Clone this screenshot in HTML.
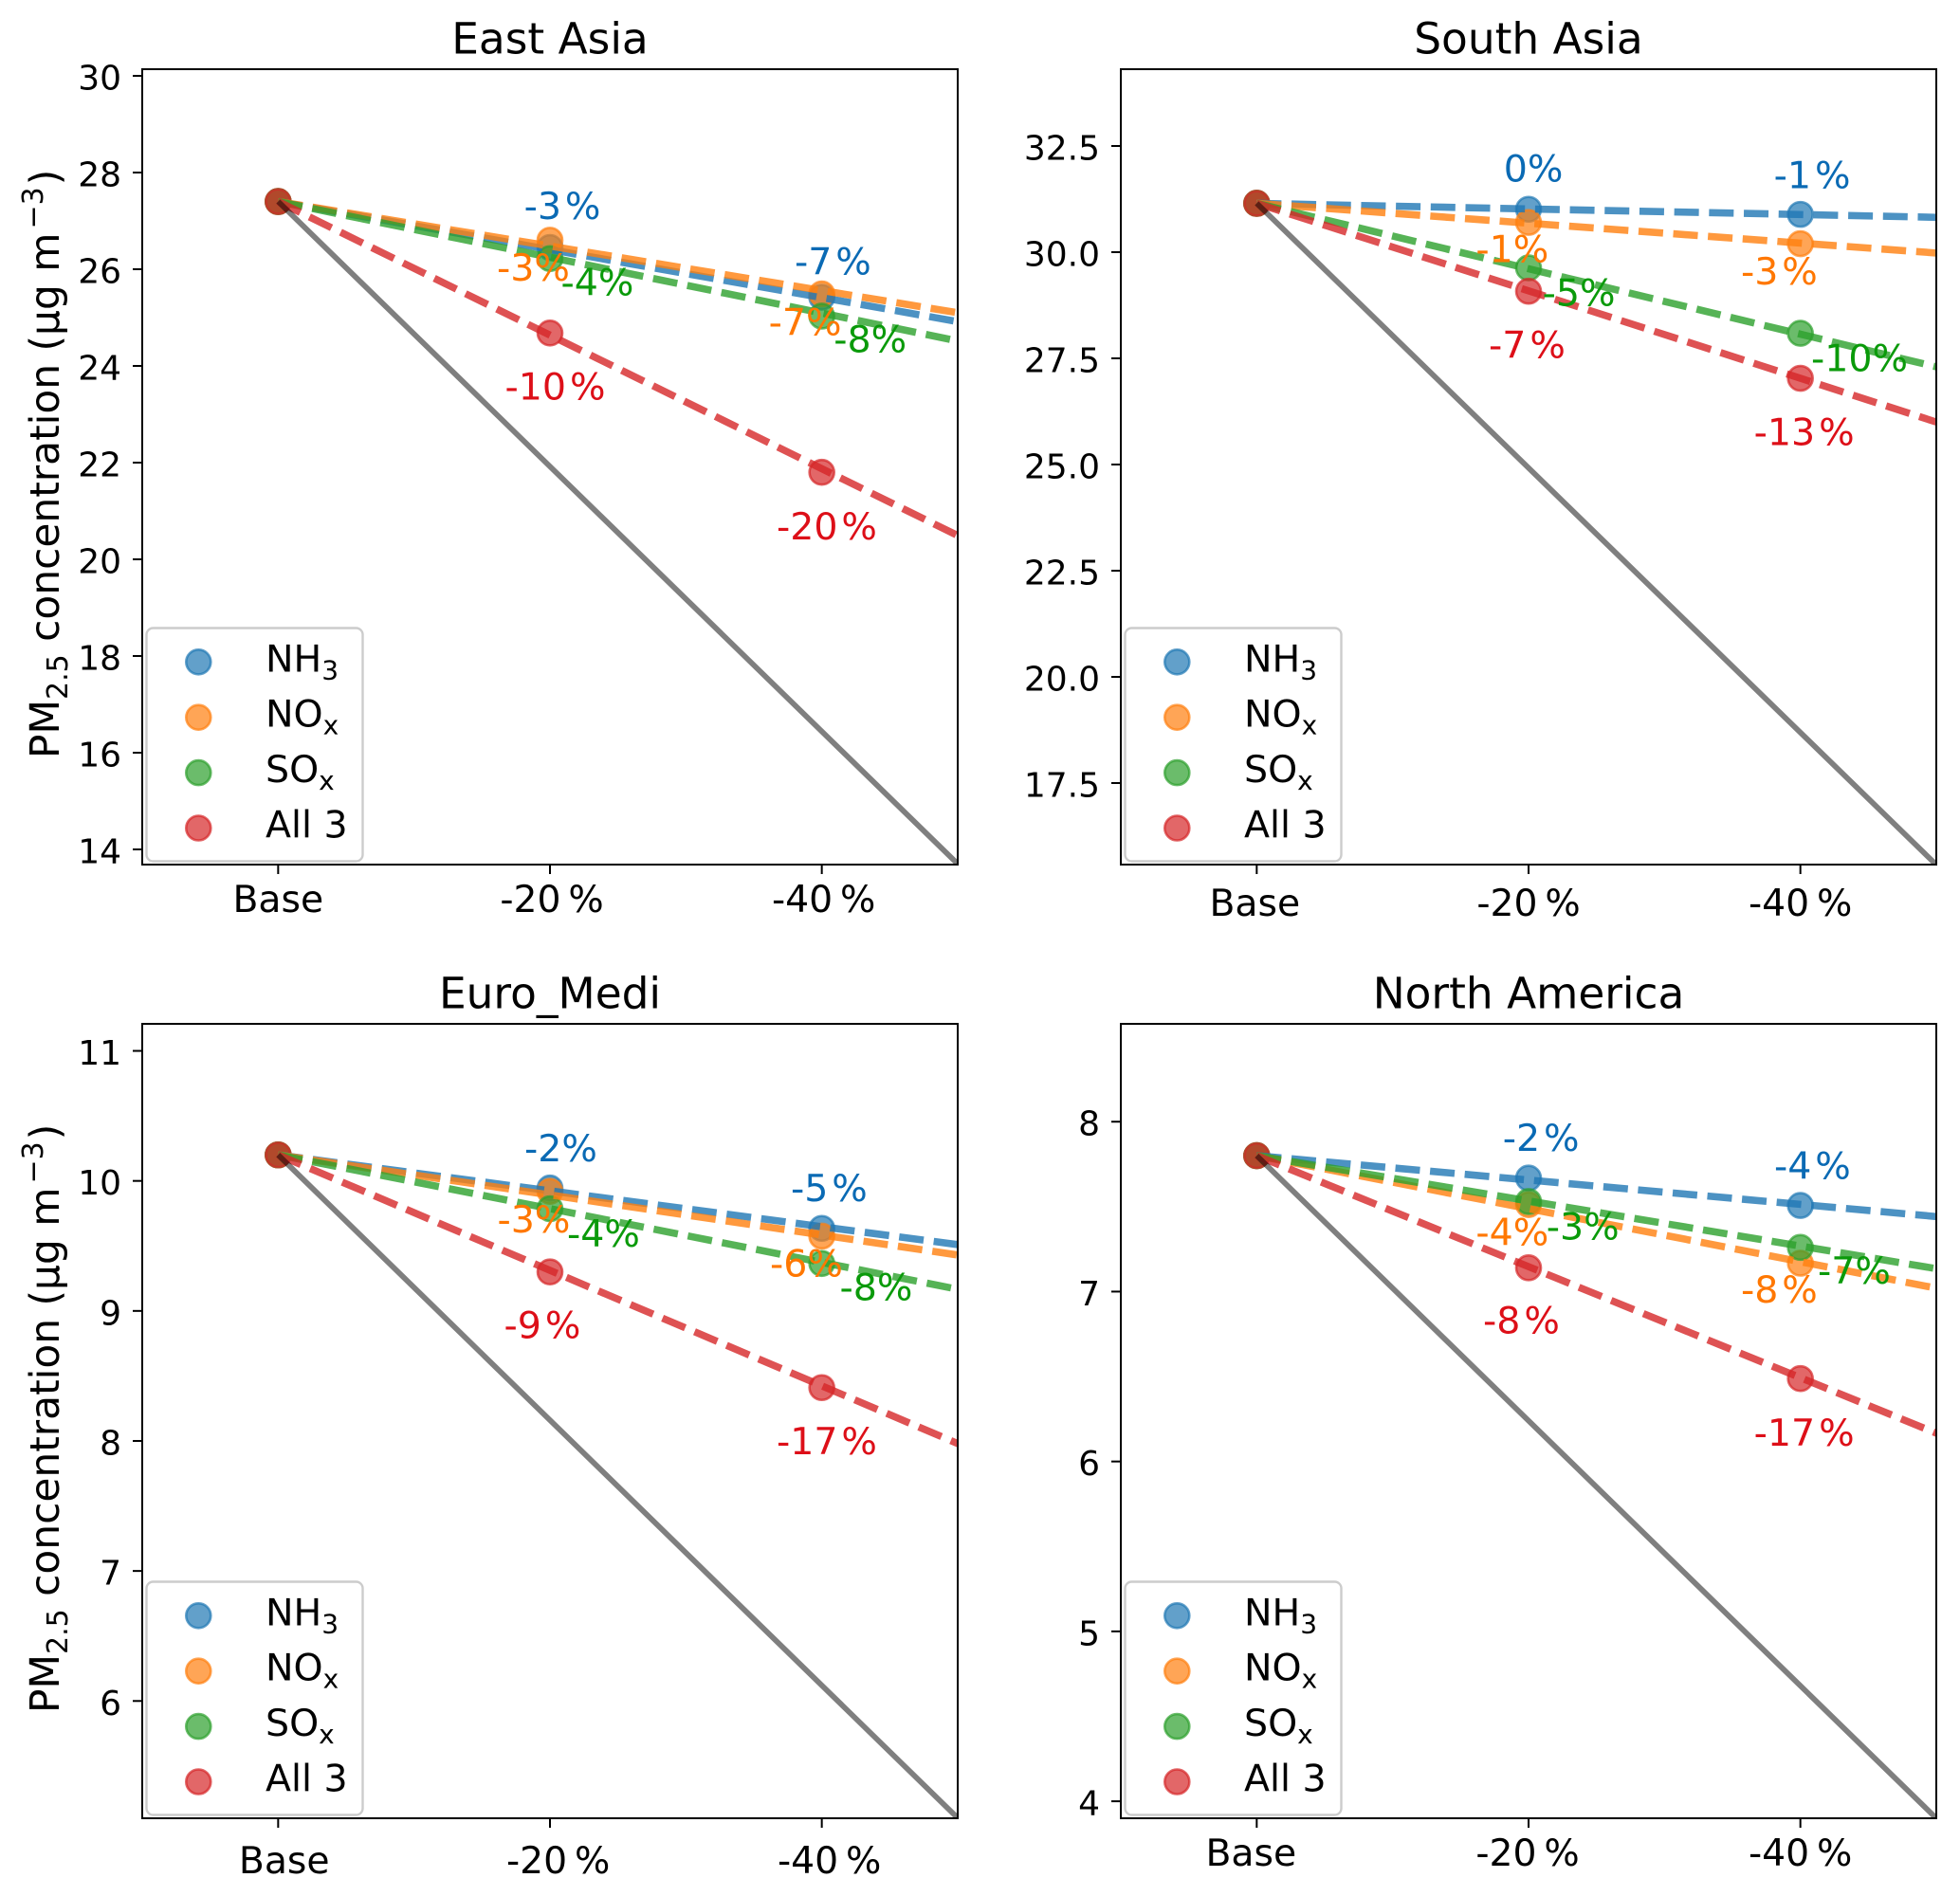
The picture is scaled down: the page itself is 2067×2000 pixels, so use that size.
<!DOCTYPE html>
<html lang="en">
<head>
<meta charset="utf-8">
<title>PM2.5 concentration response to emission reductions</title>
<style>
html,body{margin:0;padding:0;background:#fff;}
svg{display:block;font-family:"DejaVu Sans","Liberation Sans",sans-serif;}
</style>
</head>
<body>
<svg id="chart" xmlns="http://www.w3.org/2000/svg" width="2067" height="2000" viewBox="0 0 2067 2000"></svg>
<script>
// ---------- categories ----------
const categories = ['Base', '-20\u2009%', '-40\u2009%'];
const markerIndex = [0, 1, 2];
const lineIndex = [0, 3];

// ---------- East Asia ----------
const eastAsiaDomain = [13.686, 30.137];
const eastAsiaTicks = [14, 16, 18, 20, 22, 24, 26, 28, 30];
const eastAsiaTickLabels = ['14', '16', '18', '20', '22', '24', '26', '28', '30'];
const eastAsiaNH3 = [27.4, 26.45, 25.42];
const eastAsiaNOx = [27.4, 26.6, 25.49];
const eastAsiaSOx = [27.4, 26.22, 25.03];
const eastAsiaAll = [27.4, 24.68, 21.8];
const eastAsiaNH3Trend = [27.4, 24.42];
const eastAsiaNOxTrend = [27.4, 24.64];
const eastAsiaSOxTrend = [27.4, 23.94];
const eastAsiaAllTrend = [27.4, 19.11];
const eastAsiaOneToOne = [27.4, 10.96];
const eastAsiaNH3Labels = ['-3\u200a%', '-7\u200a%'];
const eastAsiaNOxLabels = ['-3%', '-7%'];
const eastAsiaSOxLabels = ['-4%', '-8%'];
const eastAsiaAllLabels = ['-10\u200a%', '-20\u200a%'];

// ---------- South Asia ----------
const southAsiaDomain = [15.58, 34.308];
const southAsiaTicks = [17.5, 20, 22.5, 25, 27.5, 30, 32.5];
const southAsiaTickLabels = ['17.5', '20.0', '22.5', '25.0', '27.5', '30.0', '32.5'];
const southAsiaNH3 = [31.15, 31.01, 30.89];
const southAsiaNOx = [31.15, 30.7, 30.2];
const southAsiaSOx = [31.15, 29.63, 28.09];
const southAsiaAll = [31.15, 29.08, 27.03];
const southAsiaNH3Trend = [31.15, 30.754];
const southAsiaNOxTrend = [31.15, 29.746];
const southAsiaSOxTrend = [31.15, 26.53];
const southAsiaAllTrend = [31.15, 24.97];
const southAsiaOneToOne = [31.15, 12.46];
const southAsiaNH3Labels = ['0%', '-1\u200a%'];
const southAsiaNOxLabels = ['-1%', '-3\u200a%'];
const southAsiaSOxLabels = ['-5%', '-10%'];
const southAsiaAllLabels = ['-7\u200a%', '-13\u200a%'];

// ---------- Euro_Medi ----------
const euroMediDomain = [5.098, 11.208];
const euroMediTicks = [6, 7, 8, 9, 10, 11];
const euroMediTickLabels = ['6', '7', '8', '9', '10', '11'];
const euroMediNH3 = [10.2, 9.945, 9.635];
const euroMediNOx = [10.2, 9.92, 9.575];
const euroMediSOx = [10.2, 9.786, 9.365];
const euroMediAll = [10.2, 9.3, 8.41];
const euroMediNH3Trend = [10.2, 9.372];
const euroMediNOxTrend = [10.2, 9.276];
const euroMediSOxTrend = [10.2, 8.96];
const euroMediAllTrend = [10.2, 7.536];
const euroMediOneToOne = [10.2, 4.08];
const euroMediNH3Labels = ['-2%', '-5\u200a%'];
const euroMediNOxLabels = ['-3%', '-6%'];
const euroMediSOxLabels = ['-4%', '-8%'];
const euroMediAllLabels = ['-9\u200a%', '-17\u200a%'];

// ---------- North America ----------
const northAmericaDomain = [3.9, 8.576];
const northAmericaTicks = [4, 5, 6, 7, 8];
const northAmericaTickLabels = ['4', '5', '6', '7', '8'];
const northAmericaNH3 = [7.8, 7.668, 7.507];
const northAmericaNOx = [7.8, 7.512, 7.167];
const northAmericaSOx = [7.8, 7.53, 7.26];
const northAmericaAll = [7.8, 7.14, 6.488];
const northAmericaNH3Trend = [7.8, 7.37];
const northAmericaNOxTrend = [7.8, 6.864];
const northAmericaSOxTrend = [7.8, 7.002];
const northAmericaAllTrend = [7.8, 5.84];
const northAmericaOneToOne = [7.8, 3.12];
const northAmericaNH3Labels = ['-2\u200a%', '-4\u200a%'];
const northAmericaNOxLabels = ['-4%', '-8\u200a%'];
const northAmericaSOxLabels = ['-3%', '-7%'];
const northAmericaAllLabels = ['-8\u200a%', '-17\u200a%'];

// ---------- layout (not data) ----------
const seriesStyle = [
  {key: 'nh3', color: '#1f77b4', text: '#0a6ab4'},
  {key: 'nox', color: '#ff7f0e', text: '#ff7700'},
  {key: 'sox', color: '#2ca02c', text: '#0a9a0a'},
  {key: 'all3', color: '#d62728', text: '#dd0f18'}
];

const panels = [
  {id: 'east-asia', title: 'East Asia', left: 150, top: 73, domain: eastAsiaDomain,
   ticks: eastAsiaTicks, tickLabels: eastAsiaTickLabels, yLabel: true, xLabelDrop: 50, xLabelShift: [0, 2, 2],
   markers: [eastAsiaNH3, eastAsiaNOx, eastAsiaSOx, eastAsiaAll],
   trends: [eastAsiaNH3Trend, eastAsiaNOxTrend, eastAsiaSOxTrend, eastAsiaAllTrend],
   oneToOne: eastAsiaOneToOne,
   labels: [eastAsiaNH3Labels, eastAsiaNOxLabels, eastAsiaSOxLabels, eastAsiaAllLabels],
   nudges: [[[-27.4, -30], [-28.7, -24.3]], [[-56, 42.6], [-56, 43.3]], [[11.5, 38.9], [12.6, 38.2]], [[-47.5, 70.4], [-47.7, 70.8]]]},
  {id: 'south-asia', title: 'South Asia', left: 1182, top: 73, domain: southAsiaDomain,
   ticks: southAsiaTicks, tickLabels: southAsiaTickLabels, yLabel: false, xLabelDrop: 54, xLabelShift: [-2, 0, 0],
   markers: [southAsiaNH3, southAsiaNOx, southAsiaSOx, southAsiaAll],
   trends: [southAsiaNH3Trend, southAsiaNOxTrend, southAsiaSOxTrend, southAsiaAllTrend],
   oneToOne: southAsiaOneToOne,
   labels: [southAsiaNH3Labels, southAsiaNOxLabels, southAsiaSOxLabels, southAsiaAllLabels],
   nudges: [[[-26.3, -29.1], [-28, -27.8]], [[-55.6, 42.1], [-62.7, 43]], [[14.6, 40.1], [11.3, 40.1]], [[-42, 70.1], [-49, 70.3]]]},
  {id: 'euro-medi', title: 'Euro_Medi', left: 150, top: 1080, domain: euroMediDomain,
   ticks: euroMediTicks, tickLabels: euroMediTickLabels, yLabel: true, xLabelDrop: 58, xLabelShift: [6.4, 8.7, 8],
   markers: [euroMediNH3, euroMediNOx, euroMediSOx, euroMediAll],
   trends: [euroMediNH3Trend, euroMediNOxTrend, euroMediSOxTrend, euroMediAllTrend],
   oneToOne: euroMediOneToOne,
   labels: [euroMediNH3Labels, euroMediNOxLabels, euroMediSOxLabels, euroMediAllLabels],
   nudges: [[[-27, -28.2], [-32.7, -28.5]], [[-55.5, 43.3], [-54.7, 42.7]], [[18, 40], [18.8, 38.9]], [[-48.5, 70], [-47.7, 70.2]]]},
  {id: 'north-america', title: 'North America', left: 1182, top: 1080, domain: northAmericaDomain,
   ticks: northAmericaTicks, tickLabels: northAmericaTickLabels, yLabel: false, xLabelDrop: 50, xLabelShift: [-6, -1, 0],
   markers: [northAmericaNH3, northAmericaNOx, northAmericaSOx, northAmericaAll],
   trends: [northAmericaNH3Trend, northAmericaNOxTrend, northAmericaSOxTrend, northAmericaAllTrend],
   oneToOne: northAmericaOneToOne,
   labels: [northAmericaNH3Labels, northAmericaNOxLabels, northAmericaSOxLabels, northAmericaAllLabels],
   nudges: [[[-27.3, -28.8], [-27.7, -28.3]], [[-55.6, 42.6], [-62.7, 41.7]], [[18.7, 39.8], [18.3, 38.1]], [[-48, 69.3], [-49, 70.7]]]}
];

const PLOT_W = 860;
const PLOT_H = 839;
const SVG_NS = 'http://www.w3.org/2000/svg';
const root = document.getElementById('chart');

function make(parent, tag, props) {
  const node = document.createElementNS(SVG_NS, tag);
  for (const k in props) node.setAttribute(k, props[k]);
  parent.appendChild(node);
  return node;
}

function addSpan(parent, str, props) {
  const span = make(parent, 'tspan', props || {});
  span.textContent = str;
  return span;
}

panels.forEach(function (p, pi) {
  const right = p.left + PLOT_W;
  const bottom = p.top + (pi < 2 ? PLOT_H : PLOT_H - 1);
  const height = bottom - p.top;
  const xScale = function (i) { return p.left + (i + 0.5) * (PLOT_W / 3); };
  const yScale = function (v) { return p.top + (p.domain[1] - v) / (p.domain[1] - p.domain[0]) * height; };

  const g = make(root, 'g', {});
  
  

  const clip = make(g, 'clipPath', {id: 'clip-' + p.id});
  make(clip, 'rect', {x: p.left, y: p.top, width: PLOT_W, height: height});

  // Scatter markers (drawn beneath the lines)
  p.markers.forEach(function (vals, si) {
    const st = seriesStyle[si];
    vals.forEach(function (v, i) {
      const c = make(g, 'circle', {cx: xScale(markerIndex[i]), cy: yScale(v), r: 13, fill: st.color, stroke: st.color,
        'fill-opacity': 0.7, 'stroke-opacity': 0.7, 'stroke-width': 2.6, 'clip-path': 'url(#clip-' + p.id + ')'});
      
      
    });
  });

  // Dashed trend lines
  p.trends.forEach(function (vals, si) {
    const st = seriesStyle[si];
    const pts = vals.map(function (v, i) { return xScale(lineIndex[i]) + ',' + yScale(v); }).join(' ');
    const l = make(g, 'polyline', {points: pts, fill: 'none', stroke: st.color, 'stroke-width': 7.6, 'stroke-opacity': 0.8,
      'stroke-dasharray': '26 10.7', 'clip-path': 'url(#clip-' + p.id + ')'});
    
    
  });

  // One-to-one reference line
  const refPts = p.oneToOne.map(function (v, i) { return xScale(lineIndex[i]) + ',' + yScale(v); }).join(' ');
  const ref = make(g, 'polyline', {points: refPts, fill: 'none', stroke: '#000', 'stroke-width': 5.8, 'stroke-opacity': 0.5,
    'clip-path': 'url(#clip-' + p.id + ')'});
  
  

  // Percentage annotations
  p.labels.forEach(function (labs, si) {
    const st = seriesStyle[si];
    labs.forEach(function (txt, i) {
      const n = p.nudges[si][i];
      const t = make(g, 'text', {x: xScale(i + 1) + n[0], y: yScale(p.markers[si][i + 1]) + n[1], fill: st.text, 'font-size': 39.5});
      t.textContent = txt;
      
      
    });
  });

  // Plot frame
  const frame = make(g, 'rect', {x: p.left, y: p.top, width: PLOT_W, height: height, fill: 'none', stroke: '#000', 'stroke-width': 2});
  
  

  // Y axis
  p.ticks.forEach(function (v, i) {
    const y = yScale(v);
    const tick = make(g, 'line', {x1: p.left - 10, x2: p.left, y1: y, y2: y, stroke: '#000', 'stroke-width': 2});
    
    
    const lab = make(g, 'text', {x: p.left - 22, y: y + 14.5, 'text-anchor': 'end', 'font-size': 36, fill: '#000'});
    lab.textContent = p.tickLabels[i];
    
    
  });

  // X axis
  categories.forEach(function (c, i) {
    const x = xScale(i);
    const tick = make(g, 'line', {x1: x, x2: x, y1: bottom, y2: bottom + 10, stroke: '#000', 'stroke-width': 2});
    
    
    const lab = make(g, 'text', {x: x + p.xLabelShift[i], y: bottom + p.xLabelDrop, 'text-anchor': 'middle', 'font-size': 39.3, fill: '#000'});
    lab.textContent = c;
    
    
  });

  // Title
  const title = make(g, 'text', {x: p.left + PLOT_W / 2, y: p.top - 16.5, 'text-anchor': 'middle', 'font-size': 45.4, fill: '#000'});
  title.textContent = p.title;
  
  

  // Y axis title
  if (p.yLabel) {
    const py = p.top + 727;
    const yt = make(g, 'text', {transform: 'translate(62,' + py + ') rotate(-90)', x: 0, y: 0, 'font-size': 42.3, fill: '#000'});
    
    
    addSpan(yt, 'PM');
    addSpan(yt, '2.5', {'font-size': 30, dy: 9});
    addSpan(yt, ' concentration (\u00b5g m', {dy: -9});
    addSpan(yt, '\u22123', {'font-size': 30, dy: -17, dx: 4});
    addSpan(yt, ')', {dy: 17, dx: 2});
  }

  // Legend
  const leg = make(g, 'g', {});
  
  
  const box = make(leg, 'rect', {x: p.left + 4.5, y: bottom - 249.5, width: 228, height: 246, rx: 7, ry: 7, fill: '#fff', 'fill-opacity': 0.8, stroke: '#cccccc', 'stroke-width': 2.4});
  
  
  const legendRows = [['NH', '3'], ['NO', 'x'], ['SO', 'x'], ['All 3', '']];
  legendRows.forEach(function (row, i) {
    const ly = bottom - 213.7 + i * 58.4;
    const st = seriesStyle[i];
    const dot = make(leg, 'circle', {cx: p.left + 59.3, cy: ly, r: 13, fill: st.color, stroke: st.color, 'fill-opacity': 0.7, 'stroke-opacity': 0.7, 'stroke-width': 2.6});
    
    
    const txt = make(leg, 'text', {x: p.left + 130, y: ly + 10, 'font-size': 39.5, fill: '#000'});
    
    
    addSpan(txt, row[0]);
    if (row[1]) addSpan(txt, row[1], {'font-size': 28, dy: 8});
  });
});
</script>
</body>
</html>
